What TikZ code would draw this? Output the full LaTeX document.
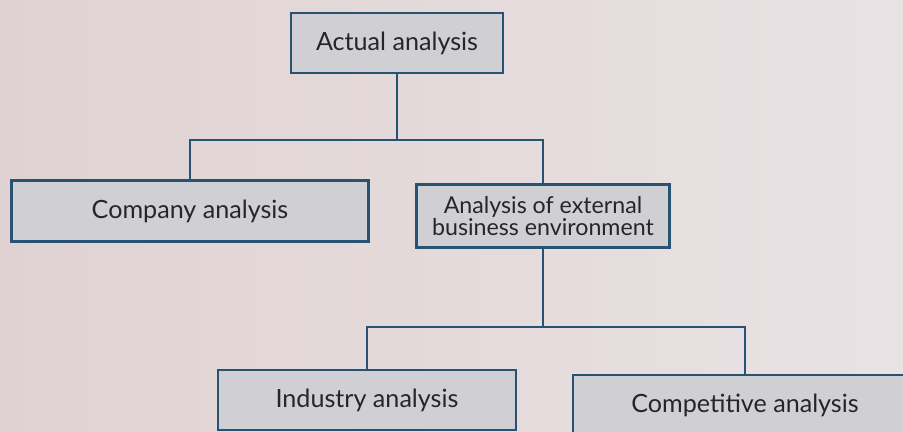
\documentclass[tikz,border=0pt]{standalone}
\usepackage{fontspec}
\setmainfont{Lato}
\usetikzlibrary{positioning}
\definecolor{pagebg}{RGB}{224,210,210}
\definecolor{pagebgr}{RGB}{233,226,228}
\definecolor{boxfill}{RGB}{208,207,212}
\definecolor{boxline}{RGB}{40,82,114}
\definecolor{inkgray}{RGB}{40,36,42}
\tikzset{
  anbox/.style={draw=boxline, fill=boxfill, line width=1.3pt, text=inkgray,
    font=\fontsize{14.3}{16}\selectfont, align=center, inner sep=0pt},
  anline/.style={boxline, line width=1.3pt}
}
\begin{document}
\begin{tikzpicture}[x=0.2mm,y=-0.2mm]
\def\bh{1.2cm};
%\draw[help lines,step=50] (0,0) grid (903,432);
\useasboundingbox (0,0) rectangle (903,432);
\clip (0,0) rectangle (903,432);
\shade[left color=pagebg, right color=pagebgr] (0,0) rectangle (903,432);

\node[anbox, minimum width=4.24cm, minimum height=\bh] (actual) at (397,43) {Actual analysis};
\node[anbox, minimum width=7.14cm, minimum height=1.22cm] (company) at (190,211) {Company analysis};
\node[anbox, minimum width=5.06cm, minimum height=1.26cm, font=\fontsize{13.2}{15}\selectfont] (external) at (543,216) {Analysis of external\\[-2pt]business environment};
\node[anbox, minimum width=5.96cm, minimum height=\bh] (industry) at (367,400) {Industry analysis};
\node[anbox, minimum width=6.88cm, minimum height=\bh] (competitive) at (745,405) {Competitive analysis};

% first level
\coordinate (j1) at (397,140);
\draw[anline] (actual.south) -- (j1);
\draw[anline] (company.north) |- (j1) -| (external.north);

% second level
\coordinate (j2) at (543,327);
\draw[anline] (external.south) -- (j2);
\draw[anline] (industry.north) |- (j2) -| (competitive.north);

\end{tikzpicture}
\end{document}
